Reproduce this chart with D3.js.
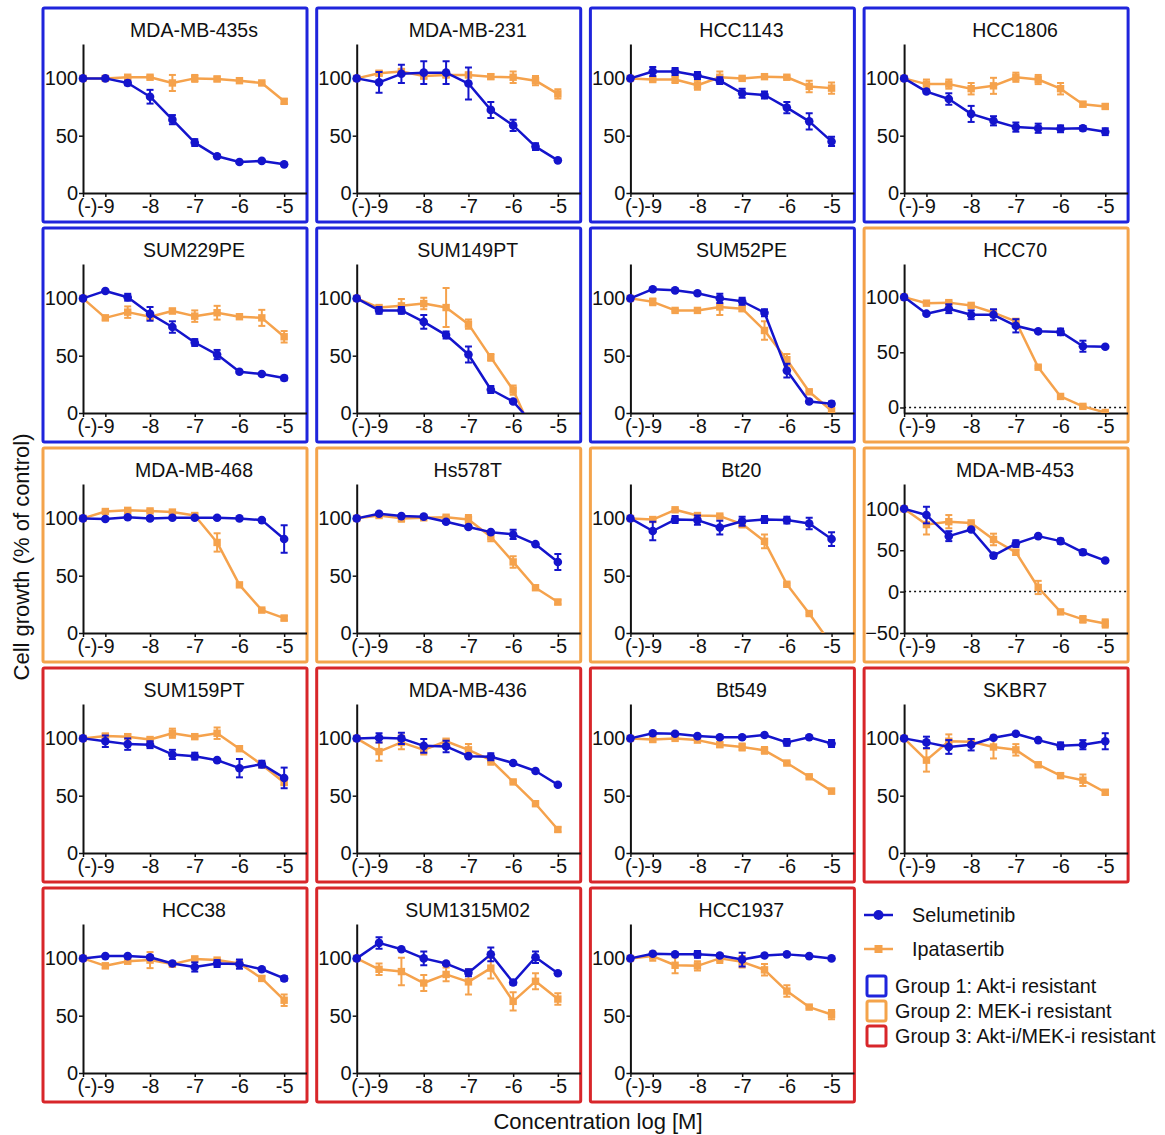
<!DOCTYPE html>
<html>
<head>
<meta charset="utf-8">
<script src="https://cdn.jsdelivr.net/npm/d3@7"></script>
<style>
  html, body { margin: 0; padding: 0; background: #ffffff; }
  svg { display: block; font-family: "Liberation Sans", Arial, sans-serif; }
</style>
</head>
<body>
<svg id="chart" width="1165" height="1135"></svg>
<script>
// ---------------- DATA ----------------
const cellLines = ["MDA-MB-435s","MDA-MB-231","HCC1143","HCC1806","SUM229PE","SUM149PT","SUM52PE","HCC70",
  "MDA-MB-468","Hs578T","Bt20","MDA-MB-453","SUM159PT","MDA-MB-436","Bt549","SKBR7","HCC38","SUM1315M02","HCC1937"];
const groupOf = [1,1,1,1,1,1,1,2,2,2,2,2,3,3,3,3,3,3,3];
const yMinOf  = [0,0,0,0,0,0,0,-5,0,0,0,-50,0,0,0,0,0,0,0];
const zeroLineOf = [false,false,false,false,false,false,false,true,false,false,false,true,false,false,false,false,false,false,false];
const yTicksDefault = [0,50,100];
const yTicksWide = [-50,0,50,100];
const doses = [-9.5,-9,-8.5,-8,-7.5,-7,-6.5,-6,-5.5,-5];   // first dose = vehicle "(-)"
const xTickValues = [-9.5,-9,-8,-7,-6,-5];
const xTickLabels = ["(-)","-9","-8","-7","-6","-5"];
const seriesNames = ["Selumetinib","Ipatasertib"];
const groupLabels = ["Group 1: Akt-i resistant","Group 2: MEK-i resistant","Group 3: Akt-i/MEK-i resistant"];

const selumetinib = [
  [100,100,96,84,64,44,32,27,28,25],
  [100,96.5,104,105,105,95.5,72.5,59,40.5,28.5],
  [100,106,106,102.5,98,87,85.5,74.5,62.5,45],
  [100,88.5,82,69,63,57.5,56.5,56,56.5,53.5],
  [100,106.5,101,86.5,75,61.5,51,36,34,30.5],
  [100,89.5,89.5,79.5,68,51,20.5,10,-12,-20],
  [100,108,107,104.5,100,97.5,87.5,37,10,8],
  [100,85,89.5,84,84,74,69,68.5,55.5,55],
  [100,99.5,101,100,100.5,100.5,100.5,100,98.5,82],
  [100,104,102,101.5,97,92.5,88,86,77.5,62],
  [100,89,99,98.5,92,97.5,99,98.5,95.5,82],
  [100,92.5,67,75,43.5,58,67,61,47.5,37.5],
  [100,97.5,95,94.5,86,84.5,81,74,77.5,65.5],
  [100,100.5,100,93.5,93,84.5,84,78.5,71.5,59.5],
  [100,104.5,104,102,101,101,103,96.5,101,95.5],
  [100,96.5,92.5,94.5,100.5,104,98.5,93.5,94.5,97.5],
  [100,102,102,101,95.5,92.5,95.5,95,90.5,82.5],
  [100,113.5,108,100,95.5,87.5,103.5,79,101,87],
  [100,104,103.5,103.5,102.5,99,102.5,103.5,102,100]
];
const selumetinibErr = [
  [0,0,2,6,4,3,1,1,1,1],
  [0,9,8,10,10,14,7,5,3,1],
  [0,4,3,3,3,4,3,5,7,4],
  [0,1,5,7,4,4,4,3,2,3],
  [0,1,3,6,5,3,4,1,1,2],
  [0,3,3,6,3,7,3,1,0,0],
  [0,1,1,1,4,3,3,6,1,2],
  [0,1,4,4,5,6,1,3,5,1],
  [0,1,1,1,1,1,1,1,1,12],
  [0,1,1,1,1,1,1,4,1,7],
  [0,8,3,4,6,4,3,3,5,6],
  [0,10,6,1,3,4,1,3,3,1],
  [0,5,5,3,4,3,1,8,3,9],
  [0,4,5,6,5,1,3,1,1,1],
  [0,1,1,1,1,1,1,3,1,3],
  [0,5,6,5,1,1,0,3,4,7],
  [0,1,1,1,1,4,3,4,1,2],
  [0,5,1,6,1,3,6,2,5,1],
  [0,1,1,3,1,6,1,1,1,1]
];
const ipatasertib = [
  [100,100,101,101,96,100,99.5,98,96,80],
  [100,104.5,106,102,103,103,101.5,101,98,86.5],
  [100,99,99,94,101,100,101.5,101,93,91.5],
  [100,95,95,91,93.5,101,99,91,77.5,75.5],
  [100,83,88,84,89,84.5,87.5,84,83,66.5],
  [100,92,93.5,95.5,92,77.5,48.5,20,-23,-40],
  [100,97,89.5,89.5,92.5,91,72,46.5,18.5,2],
  [100,94.5,95,92.5,86,78,36.5,10,1,-4.5],
  [100,106,107,106.5,105.5,102.5,79,42,20,13],
  [100,102.5,100,100.5,101,99,84,62,39.5,27],
  [100,99,107.5,102.5,102,95,80,42.5,17,-10],
  [100,81,84.5,83,63,47.5,5,-24.5,-33.5,-38.5],
  [100,102,101.5,99,104.5,101.5,104.5,91,77,61.5],
  [100,88.5,96.5,90,97.5,90,81,62,43,20.5],
  [100,99,100,98.5,94.5,92.5,89.5,78.5,66.5,54],
  [100,81,97.5,97,92.5,90,77,67.5,63.5,53],
  [100,93.5,97.5,98.5,95,99.5,98.5,95.5,82.5,63.5],
  [100,90.5,88.5,78.5,86,79.5,91.5,62.5,80,64.5],
  [100,102,94,93.5,100,97,90,71.5,57.5,51]
];
const ipatasertibErr = [
  [0,0,1,1,7,3,2,1,1,2],
  [0,2,2,2,2,2,2,5,4,4],
  [0,1,3,4,5,1,1,1,5,5],
  [0,4,4,5,7,4,4,5,2,2],
  [0,2,5,2,2,5,6,2,7,5],
  [0,1,6,5,17,4,3,4,0,0],
  [0,3,1,1,7,2,8,5,1,2],
  [0,1,1,1,1,1,1,1,1,1],
  [0,1,1,1,1,1,8,1,1,2],
  [0,1,3,1,1,4,4,5,1,2],
  [0,1,1,2,1,3,6,1,1,0],
  [0,12,8,1,7,3,8,1,4,5],
  [0,2,2,1,4,2,5,1,1,2],
  [0,8,6,4,1,5,4,1,2,2],
  [0,2,1,1,2,3,3,1,1,2],
  [0,10,6,1,10,5,1,2,5,2],
  [0,2,1,7,2,2,1,1,2,5],
  [0,5,12,7,6,11,9,8,7,5],
  [0,4,7,4,4,5,5,5,1,4]
];

// ---------------- STYLE ----------------
const BLUE = "#1414cc";
const ORANGE = "#f5a24c";
const groupColors = {1: "#1f24dc", 2: "#f4a34b", 3: "#d8262a"};
const FONT_TICK = 20, FONT_TITLE = 19.5, FONT_LABEL = 22, FONT_LEGEND = 19.8;

const svg = d3.select("#chart");
const defs = svg.append("defs");

const boxW = 264, boxH = 214;
const colStep = 273.7, rowStep = 220;

cellLines.forEach((name, i) => {
  const row = Math.floor(i / 4), col = i % 4;
  const bl = 43 + col * colStep, bt = 8 + row * rowStep;
  const yMin = yMinOf[i];
  const x = d3.scaleLinear().domain([-9.5, -4.5]).range([bl + 40, bl + 263.5]);
  const y = d3.scaleLinear().domain([yMin, 130]).range([bt + 185, bt + 36]);
  const g = svg.append("g").attr("class", "panel");

  // box
  g.append("rect").attr("x", bl).attr("y", bt).attr("width", boxW).attr("height", boxH)
    .attr("fill", "none").attr("stroke", groupColors[groupOf[i]]).attr("stroke-width", 3).attr("rx", 1.5);

  // title
  g.append("text").attr("x", bl + 151).attr("y", bt + 29).attr("text-anchor", "middle")
    .attr("font-size", FONT_TITLE).attr("fill", "#111").text(name);

  // zero reference
  if (zeroLineOf[i]) {
    g.append("line").attr("x1", x(-9.5)).attr("x2", x(-4.5)).attr("y1", y(0)).attr("y2", y(0))
      .attr("stroke", "#111").attr("stroke-width", 1.5).attr("stroke-dasharray", "2,3");
  }

  // axes
  const ticks = yMin <= -50 ? yTicksWide : yTicksDefault;
  const ya = g.append("g").attr("transform", `translate(${x(-9.5)},0)`)
    .call(d3.axisLeft(y).tickValues(ticks).tickSize(4).tickSizeOuter(0).tickPadding(1));
  const xa = g.append("g").attr("transform", `translate(0,${y(yMin)})`)
    .call(d3.axisBottom(x).tickValues(xTickValues).tickFormat((d, k) => xTickLabels[k]).tickSize(4).tickSizeOuter(0).tickPadding(2));
  [ya, xa].forEach(a => {
    a.select(".domain").attr("stroke", "#111").attr("stroke-width", 2);
    a.selectAll(".tick line").attr("stroke", "#111").attr("stroke-width", 1.5);
    a.selectAll(".tick text").attr("font-size", FONT_TICK).attr("fill", "#111")
      .attr("font-family", "'Liberation Sans', Arial, sans-serif");
  });
  xa.selectAll(".tick text").filter((d) => d === -9.5).attr("dx", 4);

  // clip for data
  const clipId = "clip" + i;
  defs.append("clipPath").attr("id", clipId).append("rect")
    .attr("x", bl + 28).attr("y", bt + 20).attr("width", boxW - 28).attr("height", y(yMin) - (bt + 20));
  const dg = g.append("g").attr("clip-path", `url(#${clipId})`);

  const drawSeries = (vals, errs, color, shape) => {
    const pts = doses.map((d, k) => ({d, v: vals[k], e: errs[k]}));
    dg.append("path").datum(pts)
      .attr("d", d3.line().x(p => x(p.d)).y(p => y(p.v)))
      .attr("fill", "none").attr("stroke", color).attr("stroke-width", 2.5).attr("stroke-linejoin", "round");
    const eb = dg.append("g").attr("stroke", color).attr("stroke-width", 2);
    pts.filter(p => p.e > 0).forEach(p => {
      const cx = x(p.d);
      eb.append("line").attr("x1", cx).attr("x2", cx).attr("y1", y(p.v - p.e)).attr("y2", y(p.v + p.e));
      eb.append("line").attr("x1", cx - 3.5).attr("x2", cx + 3.5).attr("y1", y(p.v - p.e)).attr("y2", y(p.v - p.e));
      eb.append("line").attr("x1", cx - 3.5).attr("x2", cx + 3.5).attr("y1", y(p.v + p.e)).attr("y2", y(p.v + p.e));
    });
    if (shape === "circle") {
      dg.append("g").selectAll("circle").data(pts).join("circle")
        .attr("cx", p => x(p.d)).attr("cy", p => y(p.v)).attr("r", 4.3).attr("fill", color);
    } else {
      dg.append("g").selectAll("rect").data(pts).join("rect")
        .attr("x", p => x(p.d) - 3.7).attr("y", p => y(p.v) - 3.7).attr("width", 7.4).attr("height", 7.4).attr("fill", color);
    }
  };
  drawSeries(ipatasertib[i], ipatasertibErr[i], ORANGE, "square");
  drawSeries(selumetinib[i], selumetinibErr[i], BLUE, "circle");
});

// axis titles
svg.append("text").attr("transform", "translate(29,557) rotate(-90)").attr("text-anchor", "middle")
  .attr("font-size", FONT_LABEL).attr("fill", "#111").text("Cell growth (% of control)");
svg.append("text").attr("x", 598).attr("y", 1129).attr("text-anchor", "middle")
  .attr("font-size", FONT_LABEL).attr("fill", "#111").text("Concentration log [M]");

// legend
const lg = svg.append("g");
[[BLUE, "circle", 915], [ORANGE, "square", 949]].forEach(([c, s, ly], k) => {
  lg.append("line").attr("x1", 864).attr("x2", 893).attr("y1", ly).attr("y2", ly).attr("stroke", c).attr("stroke-width", 2.5);
  if (s === "circle") lg.append("circle").attr("cx", 878.5).attr("cy", ly).attr("r", 5).attr("fill", c);
  else lg.append("rect").attr("x", 874.5).attr("y", ly - 4).attr("width", 8).attr("height", 8).attr("fill", c);
  lg.append("text").attr("x", 912).attr("y", ly).attr("dy", "0.35em").attr("font-size", FONT_LEGEND).attr("fill", "#111").text(seriesNames[k]);
});
groupLabels.forEach((t, k) => {
  const cy = 986 + k * 25;
  lg.append("rect").attr("x", 867).attr("y", cy - 10).attr("width", 19).attr("height", 20).attr("rx", 2)
    .attr("fill", "none").attr("stroke", groupColors[k + 1]).attr("stroke-width", 3);
  lg.append("text").attr("x", 895).attr("y", cy).attr("dy", "0.35em").attr("font-size", FONT_LEGEND).attr("fill", "#111").text(t);
});
</script>
</body>
</html>
